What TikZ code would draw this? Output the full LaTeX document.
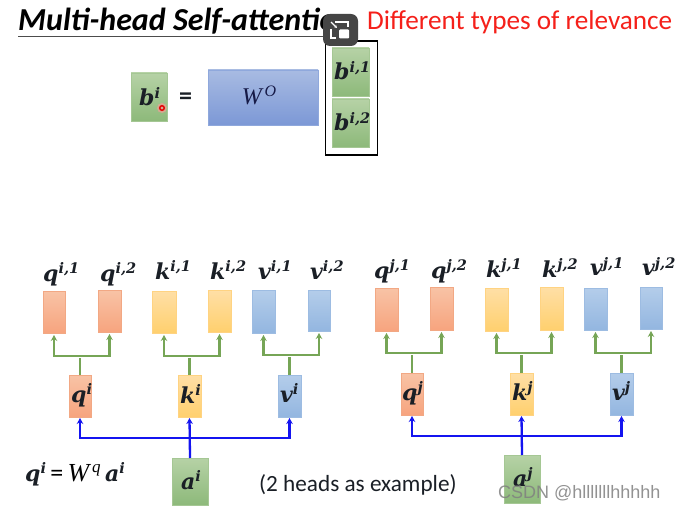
\documentclass[tikz,border=0pt]{standalone}
\usepackage{fontspec}
\setmainfont{Carlito}
\newfontfamily\mfont{DejaVu Serif}
\newfontfamily\wfont{Liberation Serif}
\newfontfamily\wmfont{Liberation Sans}
\usetikzlibrary{arrows.meta,calc}
\definecolor{ink}{HTML}{1A1F26}
\newcommand{\vsym}[2]{{\mfont\bfseries\itshape\color{ink}\fontsize{22}{22}\selectfont #1\raisebox{7.5pt}{\fontsize{14.5}{14.5}\selectfont #2}}}
\newcommand{\bx}[6]{\node[#5,minimum width=#3pt-#1pt,minimum height=#4pt-#2pt] (#6) at ({(#1+#3)/2},{(#2+#4)/2}) {};}
\newcommand{\gtree}[4]{\coordinate (t#1) at (#1.north |- 0,#4);
  \draw[green line] (#1.north) -- (t#1);
  \draw[green line,-{Stealth[length=6pt,width=6.5pt]}] (t#1) -| (#2.south);
  \draw[green line,-{Stealth[length=6pt,width=6.5pt]}] (t#1) -| (#3.south);}
\newcommand{\btree}[5]{\coordinate (t#1) at (#1.north |- 0,#5);
  \draw[blue line,-{Stealth[length=6pt,width=6.5pt]}] (#1.north) -- (#3.south);
  \draw[blue line,-{Stealth[length=6pt,width=6.5pt]}] (t#1) -| (#2.south);
  \draw[blue line,-{Stealth[length=6pt,width=6.5pt]}] (t#1) -| (#4.south);}
\definecolor{F1}{HTML}{F8C3A6}\definecolor{F2}{HTML}{F7A47E}\definecolor{F3}{HTML}{F2A884}
\definecolor{Y1}{HTML}{FFDFA6}\definecolor{Y2}{HTML}{FFD06E}\definecolor{Y3}{HTML}{FFD382}
\definecolor{B1}{HTML}{B4CDEA}\definecolor{B2}{HTML}{93B6E0}\definecolor{B3}{HTML}{9DBCE2}
\definecolor{G1}{HTML}{B6D2A6}\definecolor{G2}{HTML}{8DB97A}\definecolor{G3}{HTML}{A5C794}
\definecolor{W1}{HTML}{A8BBE2}\definecolor{W2}{HTML}{7C98D6}\definecolor{W3}{HTML}{8FA8DC}
\definecolor{lineg}{HTML}{76A556}\definecolor{lineb}{HTML}{1414F0}\definecolor{redtxt}{HTML}{F5201A}
\tikzset{
  boxbase/.style={inner sep=0pt,outer sep=0pt,line width=0.6pt},
  orangebox/.style={boxbase,draw=F3,top color=F1,bottom color=F2},
  yellowbox/.style={boxbase,draw=Y3,top color=Y1,bottom color=Y2},
  bluebox/.style={boxbase,draw=B3,top color=B1,bottom color=B2},
  greenbox/.style={boxbase,draw=G3,top color=G1,bottom color=G2},
  wbox/.style={boxbase,draw=W3,top color=W1,bottom color=W2},
  green line/.style={draw=lineg,line width=2.3pt,shorten >=2pt},
  blue line/.style={draw=lineb,line width=2.3pt,shorten >=1pt},
  lab/.style={inner sep=0pt,anchor=base west},
}
\begin{document}
\begin{tikzpicture}[x=1pt,y=-1pt]
\useasboundingbox (0,0) rectangle (678,508);
\fill[white] (0,0) rectangle (678,508);
% title
\node[lab,font=\bfseries\itshape\fontsize{32}{32}\selectfont,text=black] (title) at (18,31) {Multi-head Self-attention};
\draw[black!70,line width=1pt] (18,36.5) -- (340,36.5);
\node[lab,font=\fontsize{27.2}{27.2}\selectfont,text=redtxt] (sub) at (367,30) {Different types of relevance};
% top formula
\bx{131}{73}{167}{121}{greenbox}{bi}
\node[lab] (bilab) at (139,106) {\vsym{b}{i}};
\node[lab,font=\bfseries\fontsize{26}{26}\selectfont,text=ink] (eq) at (179,105) {=};
\bx{208}{70}{318}{125}{wbox}{w}
\node[font=\wfont\itshape\fontsize{24}{24}\selectfont,text=ink!85!blue] (wlab) at (259,95) {W\raisebox{8pt}{\fontsize{16}{16}\selectfont\,O}};
\node[draw=black,line width=1.5pt,inner sep=0pt,minimum width=52pt,minimum height=114pt,fill=white] (outer) at (351.5,98) {};
\bx{332}{48}{369}{96}{greenbox}{b1}
\bx{332}{99}{369}{147}{greenbox}{b2}
\node[lab] (b1lab) at (334,80) {\vsym{b}{i,1}};
\node[lab] (b2lab) at (334,131) {\vsym{b}{i,2}};
% left head boxes
\bx{43}{291}{65}{333}{orangebox}{q1}
\bx{98}{290}{121}{332}{orangebox}{q2}
\bx{152}{291}{176}{333}{yellowbox}{k1}
\bx{208}{290}{231}{332}{yellowbox}{k2}
\bx{252}{290}{275}{333}{bluebox}{v1}
\bx{308}{290}{330}{331}{bluebox}{v2}
\bx{69}{375}{91}{417}{orangebox}{q}
\bx{178}{375}{201}{417}{yellowbox}{k}
\bx{278}{375}{301}{417}{bluebox}{v}
\bx{172}{458}{208}{505}{greenbox}{a}
% right head boxes
\bx{375}{288}{398}{331}{orangebox}{qq1}
\bx{430}{287}{453}{330}{orangebox}{qq2}
\bx{485}{288}{508}{331}{yellowbox}{kk1}
\bx{540}{287}{563}{330}{yellowbox}{kk2}
\bx{584}{288}{607}{330}{bluebox}{vv1}
\bx{640}{287}{662}{329}{bluebox}{vv2}
\bx{401}{373}{423}{415}{orangebox}{qq}
\bx{510}{373}{533}{415}{yellowbox}{kk}
\bx{610}{373}{633}{415}{bluebox}{vv}
\bx{504}{455}{540}{503}{greenbox}{aa}
% connectors
\gtree{q}{q1}{q2}{356}
\gtree{k}{k1}{k2}{356}
\gtree{v}{v1}{v2}{355}
\gtree{qq}{qq1}{qq2}{353}
\gtree{kk}{kk1}{kk2}{353}
\gtree{vv}{vv1}{vv2}{353}
\btree{a}{q}{k}{v}{438}
\btree{aa}{qq}{kk}{vv}{436}
% left labels
\node[lab] (lq1) at (43,281) {\vsym{q}{i,1}};
\node[lab] (lq2) at (100,281) {\vsym{q}{i,2}};
\node[lab] (lk1) at (155,279) {\vsym{k}{i,1}};
\node[lab] (lk2) at (210,279) {\vsym{k}{i,2}};
\node[lab] (lv1) at (258,279) {\vsym{v}{i,1}};
\node[lab] (lv2) at (310,279) {\vsym{v}{i,2}};
\node[lab] (lq) at (71,402) {\vsym{q}{i}};
\node[lab] (lk) at (180,403) {\vsym{k}{i}};
\node[lab] (lv) at (280,402) {\vsym{v}{i}};
\node[lab] (la) at (181,489) {\vsym{a}{i}};
\node[lab] (leqn) at (25,481) {\vsym{q}{i}{\fontsize{26}{26}\selectfont\,=\,}{\wfont\itshape\fontsize{26}{26}\selectfont W\raisebox{9pt}{\fontsize{17}{17}\selectfont\,q}\,}\vsym{a}{i}};
\node[lab,font=\fontsize{23.2}{23.2}\selectfont,text=ink] (note) at (259,491) {(2 heads as example)};
% right labels
\node[lab] (lqq1) at (374,278) {\vsym{q}{j,1}};
\node[lab] (lqq2) at (431,278) {\vsym{q}{j,2}};
\node[lab] (lkk1) at (486,277) {\vsym{k}{j,1}};
\node[lab] (lkk2) at (542,277) {\vsym{k}{j,2}};
\node[lab] (lvv1) at (590,276) {\vsym{v}{j,1}};
\node[lab] (lvv2) at (642,276) {\vsym{v}{j,2}};
\node[lab] (lqq) at (402,400) {\vsym{q}{j}};
\node[lab] (lkk) at (512,400) {\vsym{k}{j}};
\node[lab] (lvv) at (612,400) {\vsym{v}{j}};
\node[lab] (laa) at (513,486) {\vsym{a}{j}};
% watermark
\node[lab,font=\wmfont\fontsize{18}{18}\selectfont,text=black!50,opacity=.85] (wm) at (498,498) {CSDN @hlllllllhhhhh};
% laser pointer dot
\fill[red!40,opacity=.6] (162,108) circle (5);
\draw[red!90!black,line width=1.4pt] (162,108) circle (2.3);
% overlay icon
\fill[black!73,rounded corners=7pt] (323,14) rectangle (358,46);
\draw[white,line width=1.1pt] (335,22) -- (348,22) -- (348,27);
\draw[white,line width=1.1pt] (331,29) -- (331,38) -- (336,38);
\fill[white,rounded corners=1pt] (339,29.5) rectangle (349,38.5);
\draw[white,line width=1.1pt,-{Stealth[length=3pt,width=3pt]}] (331,22) -- (337,28);
\end{tikzpicture}
\end{document}
